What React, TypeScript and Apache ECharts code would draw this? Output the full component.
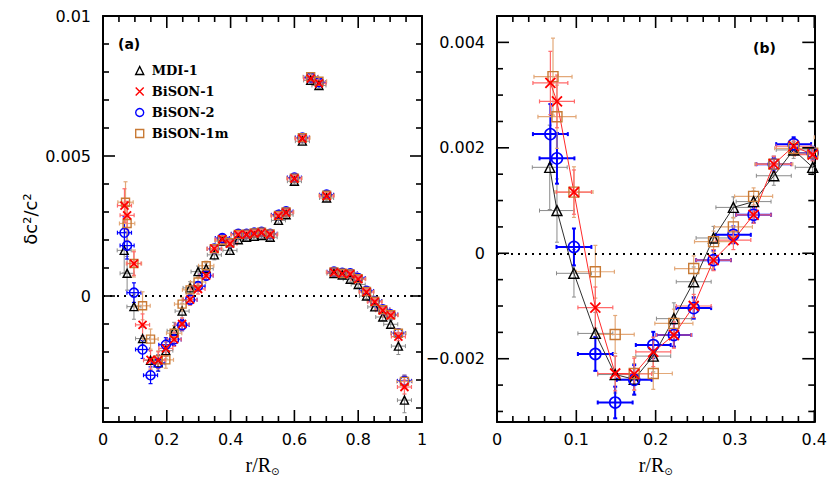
import React, { useEffect, useRef } from 'react';
import * as echarts from 'echarts';

// ---------------- data ----------------
const rCore = [0.097, 0.124, 0.149, 0.173, 0.197, 0.223, 0.248, 0.273, 0.298, 0.3235, 0.349, 0.374, 0.398,
  0.424, 0.45, 0.474, 0.497, 0.524, 0.55, 0.574, 0.6, 0.625, 0.651, 0.677, 0.701, 0.724, 0.75, 0.775, 0.8,
  0.826, 0.852, 0.877, 0.902, 0.926, 0.945];
const rMDI1 = [0.0665, 0.0756, ...rCore];
const rBiSON1 = [0.0673, 0.0756, ...rCore];
const rBiSON2 = [0.0673, 0.0756, ...rCore];
const rBiSON1m = [0.0706, 0.0756, ...rCore];

const MDI1 = [0.00163, 0.00081, -0.00038, -0.00152, -0.0023, -0.00239, -0.00195, -0.00124, -0.00054, 0.00029,
  0.00087, 0.00098, 0.00147, 0.00196, 0.00163, 0.00201, 0.0021, 0.00213, 0.00216, 0.0021, 0.0027, 0.0029, 0.0041,
  0.00553, 0.0077, 0.00752, 0.0035, 0.0008, 0.00075, 0.0006, 0.00041, 0.0, -0.00039, -0.00075, -0.00101, -0.00179,
  -0.00372];
const BiSON1 = [0.00323, 0.00288, 0.00116, -0.00103, -0.00228, -0.00229, -0.00187, -0.00155, -0.001, -0.00013,
  0.00025, 0.00073, 0.00169, 0.00203, 0.00187, 0.00219, 0.00219, 0.00223, 0.00226, 0.00219, 0.00286, 0.00298,
  0.00419, 0.00562, 0.00776, 0.00759, 0.00357, 0.00084, 0.0008, 0.00078, 0.0006, 0.00014, -0.00021, -0.00051,
  -0.00069, -0.00145, -0.00325];
const BiSON2 = [0.00226, 0.0018, 0.00012, -0.00191, -0.00283, -0.0024, -0.00174, -0.00155, -0.00104, -0.00013,
  0.00035, 0.00073, 0.00169, 0.00207, 0.0019, 0.00222, 0.00222, 0.00226, 0.00229, 0.00222, 0.0029, 0.00302,
  0.00423, 0.00566, 0.00781, 0.00764, 0.00362, 0.00087, 0.00083, 0.00081, 0.00064, 0.00018, -0.00018, -0.00048,
  -0.00066, -0.00133, -0.00303];
const BiSON1m = [0.00335, 0.00259, 0.00116, -0.00035, -0.00154, -0.00228, -0.00228, -0.00133, -0.00029, 0.00022,
  0.0005, 0.00108, 0.00169, 0.00199, 0.0019, 0.0022, 0.00221, 0.00225, 0.00228, 0.00222, 0.00288, 0.003,
  0.00421, 0.00565, 0.00783, 0.00767, 0.0036, 0.00086, 0.00081, 0.00079, 0.00062, 0.00016, -0.00019, -0.00049,
  -0.00067, -0.00133, -0.00305];

const errMDI1 = [0.0008, 0.0006, 0.00045, 0.0004, 0.00035, 0.0003, 0.0003, 0.0003, 0.00028, 0.00022, 0.0002,
  0.0002, 0.00018, 0.00016, 0.00014, 0.00012, 0.0001, 0.0001, 0.0001, 0.0001, 0.0001, 0.0001, 0.0001, 0.0001,
  0.0001, 0.0001, 0.0001, 0.0001, 0.0001, 0.0001, 0.0001, 0.0001, 0.00012, 0.00012, 0.00014, 0.0003, 0.00045];
const errBiSON1 = [0.0006, 0.0005, 0.00042, 0.00039, 0.00033, 0.0003, 0.00028, 0.00025, 0.00022, 0.0002,
  0.00018, 0.00016, 0.00015, 0.00014, 0.00012, 0.0001, 0.0001, 0.0001, 0.0001, 0.0001, 0.0001, 0.0001, 0.0001,
  0.0001, 0.0001, 0.0001, 0.0001, 0.0001, 0.0001, 0.0001, 0.0001, 0.0001, 0.0001, 0.0001, 0.00012, 0.00015,
  0.00025];
const errBiSON2 = [0.00057, 0.00048, 0.00035, 0.00032, 0.0003, 0.00028, 0.00025, 0.00022, 0.0002, 0.00018,
  0.00016, 0.00015, 0.00014, 0.00013, 0.00012, 0.0001, 0.0001, 0.0001, 0.0001, 0.0001, 0.0001, 0.0001, 0.0001,
  0.0001, 0.0001, 0.0001, 0.0001, 0.0001, 0.0001, 0.0001, 0.0001, 0.0001, 0.0001, 0.0001, 0.00012, 0.00015,
  0.0002];
const errBiSON1m = [0.00073, 0.0006, 0.00048, 0.0005, 0.00036, 0.00032, 0.0003, 0.00027, 0.00024, 0.0002,
  0.00018, 0.00016, 0.00015, 0.00014, 0.00012, 0.0001, 0.0001, 0.0001, 0.0001, 0.0001, 0.0001, 0.0001, 0.0001,
  0.0001, 0.0001, 0.0001, 0.0001, 0.0001, 0.0001, 0.0001, 0.0001, 0.0001, 0.0001, 0.0001, 0.00012, 0.00015,
  0.00022];
// half width of the radial bins (MDI-1, BiSON-1, BiSON-2, BiSON-1m)
const binHalfWidth = [0.022, 0.022, 0.022, 0.024];

const seriesNames = ['MDI-1', 'BiSON-1', 'BiSON-2', 'BiSON-1m'];

// ---------------- axes / ticks ----------------
const xRangeA = [0, 1];
const yRangeA = [-0.0045, 0.01];
const xRangeB = [0, 0.4];
const yRangeB = [-0.0032, 0.0045];

const xMajorA = [0, 0.2, 0.4, 0.6, 0.8, 1];
const xMinorA = [0.05, 0.1, 0.15, 0.25, 0.3, 0.35, 0.45, 0.5, 0.55, 0.65, 0.7, 0.75, 0.85, 0.9, 0.95];
const yMajorA = [0, 0.005, 0.01];
const yMinorA = [-0.004, -0.003, -0.002, -0.001, 0.001, 0.002, 0.003, 0.004, 0.006, 0.007, 0.008, 0.009];
const yLabelsA = ['0', '0.005', '0.01'];

const xMajorB = [0, 0.1, 0.2, 0.3, 0.4];
const xMinorB = [0.02, 0.04, 0.06, 0.08, 0.12, 0.14, 0.16, 0.18, 0.22, 0.24, 0.26, 0.28, 0.32, 0.34, 0.36, 0.38];
const yMajorB = [-0.002, 0, 0.002, 0.004];
const yMinorB = [-0.003, -0.0025, -0.0015, -0.001, -0.0005, 0.0005, 0.001, 0.0015, 0.0025, 0.003, 0.0035];
const yLabelsB = ['\u22120.002', '0', '0.002', '0.004'];

// ---------------- styles ----------------
const crossPath = 'path://M0,0L10,10M10,0L0,10';
const markerDefs = [
  { symbol: 'triangle', color: '#000000', err: '#8a8a8a', errW: 1, line: '#303030', bw: 1.4 },
  { symbol: crossPath, color: '#ff0000', err: '#ff6a6a', errW: 1.2, line: '#ff2a2a', bw: 1.8 },
  { symbol: 'circle', color: '#0000ff', err: '#0000ff', errW: 2, line: '#0000ff', bw: 1.6 },
  { symbol: 'rect', color: '#c87a35', err: '#e3a878', errW: 1.2, line: '#c87a35', bw: 1.4 },
];
const rArrays = [rMDI1, rBiSON1, rBiSON2, rBiSON1m];
const vArrays = [MDI1, BiSON1, BiSON2, BiSON1m];
const eArrays = [errMDI1, errBiSON1, errBiSON2, errBiSON1m];

const MAJOR_LEN = 12;
const MINOR_LEN = 6;
const tickFont = { fontFamily: 'DejaVu Sans', fontSize: 16, color: '#000' };
const line = () => ({ show: true, onZero: false, lineStyle: { color: '#000', width: 2 } });

function makeErrRender(color: string, width: number) {
  return (params: any, api: any) => {
    const x = api.value(0);
    const y = api.value(1);
    const ex = api.value(2);
    const ey = api.value(3);
    const c = api.coord([x, y]);
    const l = api.coord([x - ex, y]);
    const r = api.coord([x + ex, y]);
    const t = api.coord([x, y + ey]);
    const b = api.coord([x, y - ey]);
    const style = { stroke: color, lineWidth: width, fill: 'none' };
    const cap = 2;
    return {
      type: 'group',
      children: [
        { type: 'line', shape: { x1: l[0], y1: c[1], x2: r[0], y2: c[1] }, style },
        { type: 'line', shape: { x1: c[0], y1: t[1], x2: c[0], y2: b[1] }, style },
        { type: 'line', shape: { x1: l[0], y1: c[1] - cap, x2: l[0], y2: c[1] + cap }, style },
        { type: 'line', shape: { x1: r[0], y1: c[1] - cap, x2: r[0], y2: c[1] + cap }, style },
        { type: 'line', shape: { x1: c[0] - cap, y1: t[1], x2: c[0] + cap, y2: t[1] }, style },
        { type: 'line', shape: { x1: c[0] - cap, y1: b[1], x2: c[0] + cap, y2: b[1] }, style },
      ],
    };
  };
}

// inward tick marks on all four sides of a panel, placed through the axis scales
function makeTickRender(xr: number[], yr: number[]) {
  return (params: any, api: any) => {
    const v = api.value(0);
    const kind = api.value(1);
    const len = api.value(2);
    const style = { stroke: '#000', lineWidth: 1.6, fill: 'none' };
    if (kind === 0) {
      const a = api.coord([v, yr[0]]);
      const b = api.coord([v, yr[1]]);
      return {
        type: 'group',
        children: [
          { type: 'line', shape: { x1: a[0], y1: a[1], x2: a[0], y2: a[1] - len }, style },
          { type: 'line', shape: { x1: b[0], y1: b[1], x2: b[0], y2: b[1] + len }, style },
        ],
      };
    }
    const a = api.coord([xr[0], v]);
    const b = api.coord([xr[1], v]);
    return {
      type: 'group',
      children: [
        { type: 'line', shape: { x1: a[0], y1: a[1], x2: a[0] + len, y2: a[1] }, style },
        { type: 'line', shape: { x1: b[0], y1: b[1], x2: b[0] - len, y2: b[1] }, style },
      ],
    };
  };
}

function tickData(xMajor: number[], xMinor: number[], yMajor: number[], yMinor: number[]) {
  return [
    ...xMajor.map((v) => [v, 0, MAJOR_LEN]),
    ...xMinor.map((v) => [v, 0, MINOR_LEN]),
    ...yMajor.map((v) => [v, 1, MAJOR_LEN]),
    ...yMinor.map((v) => [v, 1, MINOR_LEN]),
  ];
}

const fmtX = (v: number) => String(parseFloat(v.toFixed(2)));
const xName = {
  name: '{a|r/R}{b|\u2299}', nameLocation: 'middle', nameGap: 32,
  nameTextStyle: {
    color: '#000',
    rich: {
      a: { fontFamily: 'Liberation Serif', fontSize: 20, color: '#000' },
      b: { fontFamily: 'DejaVu Sans', fontSize: 10, color: '#000', padding: [12, 0, 0, 0] },
    },
  },
};
const yLabelFmt = (major: number[], labels: string[]) => (v: number) => {
  const i = major.findIndex((m) => Math.abs(m - v) < 1e-9);
  return i >= 0 ? labels[i] : '';
};
const noTicks = { axisTick: { show: false }, minorTick: { show: false }, splitLine: { show: false } };

const xAxes = [
  { type: 'value', gridIndex: 0, position: 'bottom', min: xRangeA[0], max: xRangeA[1], interval: 0.2, axisLine: line(), ...noTicks,
    axisLabel: { show: true, margin: 9, ...tickFont, formatter: fmtX }, ...xName },
  { type: 'value', gridIndex: 0, position: 'top', min: xRangeA[0], max: xRangeA[1], interval: 0.2, axisLine: line(), ...noTicks,
    axisLabel: { show: false } },
  { type: 'value', gridIndex: 1, position: 'bottom', min: xRangeB[0], max: xRangeB[1], interval: 0.1, axisLine: line(), ...noTicks,
    axisLabel: { show: true, margin: 9, ...tickFont, formatter: fmtX }, ...xName },
  { type: 'value', gridIndex: 1, position: 'top', min: xRangeB[0], max: xRangeB[1], interval: 0.1, axisLine: line(), ...noTicks,
    axisLabel: { show: false } },
];

const yAxes = [
  { type: 'value', gridIndex: 0, position: 'left', min: yRangeA[0], max: yRangeA[1], axisLine: line(), ...noTicks,
    axisLabel: { show: true, margin: 12, customValues: yMajorA, ...tickFont, formatter: yLabelFmt(yMajorA, yLabelsA) },
    name: '\u03b4c\u00b2/c\u00b2', nameLocation: 'middle', nameGap: 64, nameRotate: 90,
    nameTextStyle: { fontFamily: 'DejaVu Sans', fontSize: 18, color: '#000' } },
  { type: 'value', gridIndex: 0, position: 'right', min: yRangeA[0], max: yRangeA[1], axisLine: line(), ...noTicks,
    axisLabel: { show: false } },
  { type: 'value', gridIndex: 1, position: 'left', min: yRangeB[0], max: yRangeB[1], axisLine: line(), ...noTicks,
    axisLabel: { show: true, margin: 12, customValues: yMajorB, ...tickFont, formatter: yLabelFmt(yMajorB, yLabelsB) } },
  { type: 'value', gridIndex: 1, position: 'right', min: yRangeB[0], max: yRangeB[1], axisLine: line(), ...noTicks,
    axisLabel: { show: false } },
];

function panelSeries(xAxisIndex: number, yAxisIndex: number, symbolSize: number, right: boolean) {
  const out: any[] = [];
  [0, 2, 3, 1].forEach((k) => {
    const d = markerDefs[k];
    out.push({
      type: 'custom', name: 'err-' + seriesNames[k], xAxisIndex, yAxisIndex, clip: true, silent: true,
      encode: { x: 0, y: 1 }, z: 2,
      renderItem: makeErrRender(d.err, right ? d.errW : Math.min(d.errW, 1.2)),
      data: rArrays[k].map((r, i) => [r, vArrays[k][i], binHalfWidth[k], eArrays[k][i]]),
    });
  });
  if (right) {
    [0, 1].forEach((k) => {
      const d = markerDefs[k];
      out.push({
        type: 'line', name: 'line-' + seriesNames[k], xAxisIndex, yAxisIndex, clip: true, silent: true,
        showSymbol: false, symbol: 'none', z: 3,
        lineStyle: { color: d.line, width: 1 },
        data: rArrays[k].map((r, i) => [r, vArrays[k][i]]),
      });
    });
  }
  [0, 2, 3, 1].forEach((k, j) => {
    const d = markerDefs[k];
    const s: any = {
      type: 'scatter', name: seriesNames[k], xAxisIndex, yAxisIndex, clip: true, silent: true,
      symbol: d.symbol, symbolSize: k === 2 ? symbolSize + 1 : symbolSize, z: 5 + j,
      itemStyle: { color: 'rgba(0,0,0,0)', borderColor: d.color, borderWidth: d.bw, opacity: 1 },
      data: rArrays[k].map((r, i) => [r, vArrays[k][i]]),
    };
    if (j === 0) {
      s.markLine = {
        silent: true, symbol: ['none', 'none'], label: { show: false },
        lineStyle: { color: '#000', type: [2, 5], width: 2 },
        data: [{ yAxis: 0 }],
      };
    }
    out.push(s);
  });
  return out;
}

function tickSeries(xAxisIndex: number, yAxisIndex: number, xr: number[], yr: number[], data: number[][]) {
  return {
    type: 'custom', name: 'ticks', xAxisIndex, yAxisIndex, clip: false, silent: true, z: 10,
    dimensions: ['v', 'kind', 'len'], encode: { x: 0 },
    renderItem: makeTickRender(xr, yr),
    data,
  };
}

const option: any = {
  animation: false,
  backgroundColor: '#fff',
  grid: [
    { left: 103, top: 16, width: 319, height: 406 },
    { left: 497, top: 16, width: 319, height: 406 },
  ],
  xAxis: xAxes,
  yAxis: yAxes,
  legend: {
    show: true, orient: 'vertical', left: 130, top: 59, itemWidth: 8, itemHeight: 8, itemGap: 8,
    selectedMode: false,
    textStyle: { fontFamily: 'DejaVu Serif', fontWeight: 'bold', fontSize: 13, color: '#000', padding: [0, 0, 0, 3] },
    data: seriesNames.map((n, k) => ({
      name: n,
      icon: markerDefs[k].symbol,
      itemStyle: { color: 'rgba(0,0,0,0)', borderColor: markerDefs[k].color, borderWidth: 1.4 },
    })),
  },
  graphic: [
    { type: 'text', left: 118, top: 37, style: { text: '(a)', font: 'bold 14px "DejaVu Sans"', fill: '#000' } },
    { type: 'text', left: 753, top: 41, style: { text: '(b)', font: 'bold 14px "DejaVu Sans"', fill: '#000' } },
  ],
  series: [
    ...panelSeries(0, 0, 8, false),
    ...panelSeries(2, 2, 10, true),
    tickSeries(0, 0, xRangeA, yRangeA, tickData(xMajorA, xMinorA, yMajorA, yMinorA)),
    tickSeries(2, 2, xRangeB, yRangeB, tickData(xMajorB, xMinorB, yMajorB, yMinorB)),
  ],
};

export default function App() {
  const ref = useRef<HTMLDivElement>(null);
  useEffect(() => {
    if (!ref.current) return;
    const chart = echarts.init(ref.current, null, { renderer: 'svg' });
    chart.setOption(option);
    return () => chart.dispose();
  }, []);
  return <div ref={ref} style={{ position: 'absolute', left: 0, top: 0, width: 830, height: 485 }} />;
}
